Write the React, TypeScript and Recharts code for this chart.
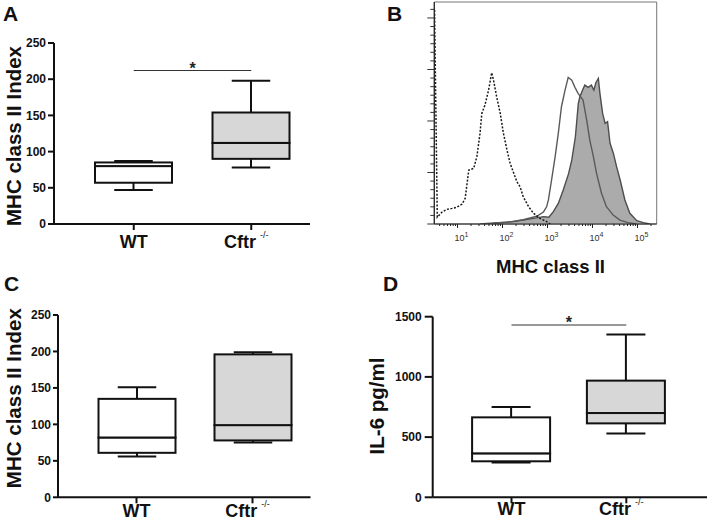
import React from 'react';
import { ComposedChart, Bar, XAxis, YAxis, ReferenceLine, ReferenceArea, Area, Line } from 'recharts';

const FONT = '"Liberation Sans", Arial, Helvetica, sans-serif';
const INK = '#111111';

// ---------- categories ----------
const groups = ['WT', 'Cftr'];
const groupSup = ['', '-/-'];
const boxFills = ['#ffffff', '#d7d7d7'];

// ---------- Panel A: MHC class II Index ----------
const aMin = [47, 78];
const aQ1 = [57, 90];
const aMed = [80, 112];
const aQ3 = [85, 154];
const aMax = [87, 198];
const aSig = 212;

// ---------- Panel C: MHC class II Index ----------
const cMin = [56, 75];
const cQ1 = [61, 78];
const cMed = [82, 99];
const cQ3 = [135, 196];
const cMax = [151, 199];

// ---------- Panel D: IL-6 pg/ml ----------
const dMin = [290, 529];
const dQ1 = [299, 614];
const dMed = [365, 700];
const dQ3 = [664, 969];
const dMax = [750, 1353];
const dSig = 1431;

const indexTicks = [0, 50, 100, 150, 200, 250];
const il6Ticks = [0, 500, 1000, 1500];

// ---------- Panel B: histograms (x = log10 fluorescence) ----------
const isoX = [0.49, 0.55, 0.65, 0.76, 0.88, 0.98, 1.10, 1.17, 1.25, 1.36, 1.43, 1.50, 1.54, 1.61, 1.69, 1.76, 1.80, 1.87, 1.95, 2.02, 2.10, 2.17, 2.32, 2.39, 2.46, 2.58, 2.69, 2.83, 2.98, 3.06];
const isoY = [124.6, 4.0, 6.8, 8.5, 9.1, 9.7, 11.6, 14.9, 31.4, 32.4, 39.2, 52.8, 64.4, 69.3, 78.0, 88.1, 83.8, 74.1, 64.4, 52.8, 43.1, 35.3, 24.6, 21.7, 15.9, 10.1, 6.2, 3.3, 1.4, 0];

const wtX = [1.50, 1.80, 2.10, 2.46, 2.76, 2.91, 2.98, 3.02, 3.09, 3.17, 3.24, 3.31, 3.39, 3.46, 3.54, 3.61, 3.68, 3.79, 3.87, 3.94, 4.02, 4.09, 4.20, 4.31, 4.46, 4.61, 4.79, 4.98];
const wtY = [0, 0.6, 1.0, 2.5, 4.5, 7.0, 10.0, 14.0, 25.6, 39.2, 52.8, 68.3, 78.0, 85.4, 83.8, 79.6, 76.1, 72.2, 60.6, 48.9, 39.2, 29.5, 17.9, 10.1, 5.2, 2.3, 0.8, 0];

const cfX = [1.80, 2.24, 2.46, 2.69, 2.91, 3.03, 3.13, 3.24, 3.35, 3.47, 3.54, 3.62, 3.685, 3.72, 3.78, 3.83, 3.905, 3.975, 4.03, 4.075, 4.13, 4.165, 4.225, 4.28, 4.335, 4.39, 4.465, 4.535, 4.615, 4.72, 4.83, 4.985, 5.13, 5.27];
const cfY = [0.4, 1.4, 2.3, 3.3, 4.3, 3.9, 7.2, 12.0, 19.8, 29.5, 37.3, 50.8, 70.3, 74.1, 78.0, 80.9, 79.6, 80.9, 78.0, 82.3, 84.8, 76.1, 64.4, 58.6, 59.6, 47.0, 41.1, 33.4, 25.6, 14.0, 6.2, 1.9, 0.8, 0];

const logDomain = [0.484, 5.427];
const logDecades = [0, 1, 2, 3, 4, 5];
const logSteps = [1, 2, 3, 4, 5, 6, 7, 8, 9];
const countDomain = [0, 129.3];
const countTicks = [0, 5, 10, 15, 20, 25, 30, 35, 40, 45, 50, 55, 60, 65, 70, 75, 80, 85, 90, 95, 100, 105, 110, 115, 120, 125];
const countMajorStep = 30;

// ---------- derived tables ----------
const boxRows = (mn: number[], q1: number[], md: number[], q3: number[], mx: number[]) =>
  groups.map((name, i) => ({
    name,
    base: mn[i],
    wLo: q1[i] - mn[i],
    bLo: md[i] - q1[i],
    bHi: q3[i] - md[i],
    wHi: mx[i] - q3[i],
  }));

const rowsA = boxRows(aMin, aQ1, aMed, aQ3, aMax);
const rowsC = boxRows(cMin, cQ1, cMed, cQ3, cMax);
const rowsD = boxRows(dMin, dQ1, dMed, dQ3, dMax);

const histRows = (() => {
  const m = new Map<string, any>();
  const add = (xs: number[], ys: number[], key: string) =>
    xs.forEach((x, i) => {
      const k = x.toFixed(3);
      const r = m.get(k) ?? { x };
      r[key] = ys[i];
      m.set(k, r);
    });
  add(isoX, isoY, 'iso');
  add(wtX, wtY, 'wt');
  add(cfX, cfY, 'cftr');
  return Array.from(m.values()).sort((a, b) => a.x - b.x);
})();

const logTicks = (() => {
  const t: number[] = [];
  logDecades.forEach((d) =>
    logSteps.forEach((s) => {
      const v = d + Math.log10(s);
      if (v >= logDomain[0] && v <= logDomain[1]) t.push(Number(v.toFixed(4)));
    })
  );
  return t;
})();

// ---------- shapes ----------
const groupIndex = (p: any) => {
  const i = groups.indexOf(p?.payload?.name);
  return i >= 0 ? i : p?.index ?? 0;
};
const EmptyShape = () => <g />;
const WhiskerLo = (p: any) => {
  const cx = p.x + p.width / 2;
  const cap = p.width * 0.25;
  const yb = p.y + p.height;
  return (
    <g>
      <line x1={cx} x2={cx} y1={p.y} y2={yb} stroke={INK} strokeWidth={2} />
      <line x1={cx - cap} x2={cx + cap} y1={yb} y2={yb} stroke={INK} strokeWidth={2} />
    </g>
  );
};
const WhiskerHi = (p: any) => {
  const cx = p.x + p.width / 2;
  const cap = p.width * 0.25;
  return (
    <g>
      <line x1={cx} x2={cx} y1={p.y} y2={p.y + p.height} stroke={INK} strokeWidth={2} />
      <line x1={cx - cap} x2={cx + cap} y1={p.y} y2={p.y} stroke={INK} strokeWidth={2} />
    </g>
  );
};
const BoxPart = (p: any) => (
  <rect x={p.x} y={p.y} width={p.width} height={p.height} fill={boxFills[groupIndex(p)]} stroke={INK} strokeWidth={2} />
);

const GroupTick = (p: any) => {
  const { x, y, payload, dy, fs } = p;
  const i = groups.indexOf(payload?.value);
  const sup = groupSup[i] || '';
  return (
    <text x={x + (sup ? -5 : 0)} y={y + dy} textAnchor="middle" fontFamily={FONT} fontWeight="bold" fontSize={fs} fill={INK}>
      {payload?.value}
      {sup ? (
        <tspan dx={4} dy={-10} fontSize={9} fontWeight="normal">
          {sup}
        </tspan>
      ) : null}
    </text>
  );
};

const ValueTick = (p: any) => {
  const { x, y, payload } = p;
  return (
    <text x={x} y={y + 4.2} textAnchor="end" fontFamily={FONT} fontWeight="bold" fontSize={12} fill={INK}>
      {payload?.value}
    </text>
  );
};

const StarLabel = (p: any) => {
  const vb = p?.viewBox;
  if (!vb) return null;
  const x = vb.x + (vb.width || 0) / 2;
  return (
    <text x={x} y={vb.y + 3} textAnchor="middle" fontSize={16} fontWeight="bold" fontFamily={FONT} fill="#222">
      *
    </text>
  );
};

const LogTick = (p: any) => {
  const { x, y, payload } = p;
  const v = payload?.value ?? 0;
  const major = Math.abs(v - Math.round(v)) < 1e-6;
  return (
    <g>
      <line x1={x} x2={x} y1={y} y2={y + (major ? 4 : 2)} stroke="#222" strokeWidth={1} />
      {major ? (
        <text x={x + 4} y={y + 17} textAnchor="middle" fontFamily={FONT} fontSize={9} fill="#333">
          10
          <tspan dy={-4} fontSize={7}>
            {Math.round(v)}
          </tspan>
        </text>
      ) : null}
    </g>
  );
};

const CountTick = (p: any) => {
  const { x, y, payload } = p;
  const v = payload?.value ?? 0;
  const major = v % countMajorStep === 0;
  return <line x1={x} x2={x - (major ? 7 : 4)} y1={y} y2={y} stroke="#333" strokeWidth={1} />;
};

// ---------- box panel ----------
function BoxPanel(props: any) {
  const {
    rows, left, top, width, height, margin, yWidth, xHeight, domain, ticks, yLabel, yLabelX, yLabelDy,
    padL, padR, barSize, xLabelDy, xFont, ySize, yMargin, sig,
  } = props;
  const yLabelFn = (p: any) => {
    const vb = p?.viewBox;
    if (!vb) return null;
    const cx = vb.x + yLabelX;
    const cy = vb.y + vb.height / 2 + yLabelDy;
    return (
      <text x={cx} y={cy} transform={`rotate(-90, ${cx}, ${cy})`} textAnchor="middle" fontSize={20.5} fontWeight="bold" fontFamily={FONT} fill={INK}>
        {yLabel}
      </text>
    );
  };
  return (
    <div style={{ position: 'absolute', left, top }}>
      <ComposedChart width={width} height={height} data={rows} margin={margin} barSize={barSize} barGap={0}>
        <XAxis
          dataKey="name"
          type="category"
          padding={{ left: padL, right: padR }}
          height={xHeight}
          interval={0}
          tickSize={6}
          tickMargin={2}
          axisLine={{ stroke: INK, strokeWidth: 2 }}
          tickLine={{ stroke: INK, strokeWidth: 2 }}
          tick={<GroupTick dy={xLabelDy} fs={xFont} />}
        />
        <YAxis
          type="number"
          domain={domain}
          ticks={ticks}
          interval={0}
          width={yWidth}
          tickSize={ySize}
          tickMargin={yMargin}
          axisLine={{ stroke: INK, strokeWidth: 2 }}
          tickLine={{ stroke: INK, strokeWidth: 2 }}
          tick={<ValueTick />}
          label={yLabelFn}
        />
        {sig != null ? (
          <ReferenceLine
            segment={[{ x: groups[0], y: sig }, { x: groups[1], y: sig }]}
            stroke="#333"
            strokeWidth={1}
            label={StarLabel}
          />
        ) : null}
        <Bar dataKey="base" stackId="b" shape={EmptyShape} isAnimationActive={false} />
        <Bar dataKey="wLo" stackId="b" shape={WhiskerLo} isAnimationActive={false} />
        <Bar dataKey="bLo" stackId="b" shape={BoxPart} isAnimationActive={false} />
        <Bar dataKey="bHi" stackId="b" shape={BoxPart} isAnimationActive={false} />
        <Bar dataKey="wHi" stackId="b" shape={WhiskerHi} isAnimationActive={false} />
      </ComposedChart>
    </div>
  );
}

function HistPanel() {
  const xTitle = (p: any) => {
    const vb = p?.viewBox;
    if (!vb) return null;
    return (
      <text x={vb.x + vb.width / 2 + 5} y={vb.y + 49} textAnchor="middle" fontSize={18.5} fontWeight="bold" fontFamily={FONT} fill={INK}>
        MHC class II
      </text>
    );
  };
  return (
    <div style={{ position: 'absolute', left: 380, top: 0 }}>
      <ComposedChart width={329} height={280} data={histRows} margin={{ top: 2, right: 52.3, bottom: 0, left: 0 }}>
        <ReferenceArea x1={logDomain[0]} x2={logDomain[1]} y1={countDomain[0]} y2={countDomain[1]} fill="none" stroke="#777" strokeWidth={1} ifOverflow="visible" />
        <XAxis
          type="number"
          dataKey="x"
          domain={logDomain}
          allowDataOverflow
          ticks={logTicks}
          interval={0}
          tickSize={0}
          tickMargin={0}
          tickLine={false}
          axisLine={{ stroke: '#222', strokeWidth: 1.2 }}
          tick={<LogTick />}
          height={56}
          label={xTitle}
        />
        <YAxis
          type="number"
          domain={countDomain}
          allowDataOverflow
          ticks={countTicks}
          interval={0}
          tickSize={0}
          tickMargin={0}
          tickLine={false}
          axisLine={{ stroke: '#222', strokeWidth: 1.2 }}
          tick={<CountTick />}
          width={54.3}
        />
        <Area dataKey="cftr" type="linear" connectNulls fill="#ababab" fillOpacity={1} stroke="#4d4d4d" strokeWidth={1.4} dot={false} activeDot={false} isAnimationActive={false} />
        <Line dataKey="wt" type="linear" connectNulls stroke="#5a5a5a" strokeWidth={1.4} dot={false} activeDot={false} isAnimationActive={false} />
        <Line dataKey="iso" type="linear" connectNulls stroke="#1a1a1a" strokeWidth={1.5} strokeDasharray="2 1.6" dot={false} activeDot={false} isAnimationActive={false} />
      </ComposedChart>
    </div>
  );
}

export default function App() {
  const letter = { fontFamily: FONT, fontWeight: 'bold' as const, fontSize: 21, fill: INK };
  return (
    <div style={{ position: 'absolute', left: 0, top: 0, width: 709, height: 523, background: '#ffffff', overflow: 'hidden' }}>
      <BoxPanel
        rows={rowsA}
        left={0}
        top={0}
        width={320}
        height={260}
        margin={{ top: 43, right: 10, bottom: 0, left: 0 }}
        yWidth={54}
        xHeight={36}
        domain={[0, 250]}
        ticks={indexTicks}
        yLabel="MHC class II Index"
        yLabelX={20.5}
        yLabelDy={2.5}
        padL={21}
        padR={0}
        barSize={77}
        xLabelDy={16}
        xFont={18}
        ySize={6}
        yMargin={2}
        sig={aSig}
      />
      <HistPanel />
      <BoxPanel
        rows={rowsC}
        left={0}
        top={260}
        width={320}
        height={263}
        margin={{ top: 55, right: 9.5, bottom: 0, left: 0 }}
        yWidth={58}
        xHeight={25.7}
        domain={[0, 250]}
        ticks={indexTicks}
        yLabel="MHC class II Index"
        yLabelX={21.5}
        yLabelDy={-8}
        padL={20.5}
        padR={0}
        barSize={77}
        xLabelDy={12}
        xFont={18}
        ySize={5}
        yMargin={2}
        sig={null}
      />
      <BoxPanel
        rows={rowsD}
        left={360}
        top={260}
        width={349}
        height={263}
        margin={{ top: 56.7, right: 2, bottom: 0, left: 0 }}
        yWidth={72.7}
        xHeight={25.7}
        domain={[0, 1500]}
        ticks={il6Ticks}
        yLabel="IL-6 pg/ml"
        yLabelX={24}
        yLabelDy={-1}
        padL={21.4}
        padR={23.3}
        barSize={78}
        xLabelDy={10}
        xFont={18}
        ySize={8}
        yMargin={3}
        sig={dSig}
      />
      <svg width={709} height={523} style={{ position: 'absolute', left: 0, top: 0, pointerEvents: 'none' }}>
        <text x={3} y={21} {...letter}>A</text>
        <text x={387} y={21} {...letter}>B</text>
        <text x={4} y={291} {...letter}>C</text>
        <text x={383} y={291} {...letter}>D</text>
      </svg>
    </div>
  );
}
